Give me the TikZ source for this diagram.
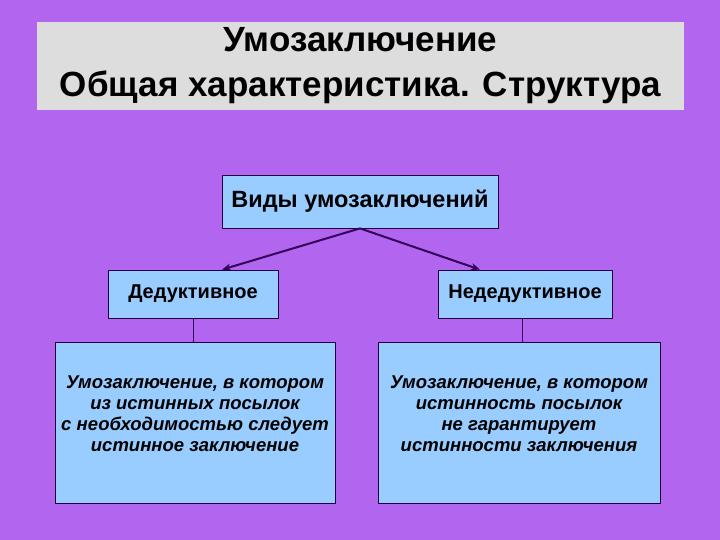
\documentclass[tikz,border=0pt]{standalone}
\usepackage{fontspec}
\setmainfont{Liberation Sans}
\usetikzlibrary{arrows.meta}
\definecolor{fon}{RGB}{178,102,240}
\definecolor{kasten}{RGB}{153,204,255}
\definecolor{titel}{RGB}{221,221,221}
\definecolor{pfeil}{RGB}{51,0,90}
\tikzset{
  box/.style={draw=pfeil!70!black,fill=kasten,line width=0.8pt,align=center,inner sep=0pt},
  verb/.style={draw=pfeil,line width=2pt},
}
\begin{document}
\begin{tikzpicture}[x=1pt,y=-1pt,font=\bfseries]
    % Hintergrund
    \fill[fon] (0,0) rectangle (720,540);
    \useasboundingbox (0,0) rectangle (720,540);
    % Titel
    \node[fill=titel,minimum width=647pt,minimum height=88pt,align=center,font=\bfseries\fontsize{35}{45}\selectfont] (titel) at (360.5,66)
      {Умозаключение\\Общая характеристика. Структура};
    % Kaesten
    \node[box,minimum width=276pt,minimum height=53pt,font=\bfseries\fontsize{23.5}{26}\selectfont] (arten) at (360,201.5) {Виды умозаключений};
    \node[box,minimum width=170pt,minimum height=48pt,font=\bfseries\fontsize{20}{22}\selectfont] (ded) at (193,294) {Дедуктивное};
    \node[box,minimum width=174pt,minimum height=48pt,font=\bfseries\fontsize{20}{22}\selectfont] (nded) at (525,294) {Недедуктивное};
    \node[box,minimum width=280pt,minimum height=161pt,font=\bfseries\itshape\fontsize{18.5}{21}\selectfont,text depth=17pt] (dedtext) at (195,422.5)
      {Умозаключение, в котором\\из истинных посылок\\с необходимостью следует\\истинное заключение};
    \node[box,minimum width=282pt,minimum height=161pt,font=\bfseries\itshape\fontsize{18.5}{21}\selectfont,text depth=17pt] (ndedtext) at (519,422.5)
      {Умозаключение, в котором\\истинность посылок\\не гарантирует\\истинности заключения};
    % Verbindungen
    \draw[verb,-{Stealth[length=9pt,width=7pt]}] (arten.south) -- ([xshift=29pt]ded.north);
    \draw[verb,-{Stealth[length=9pt,width=7pt]}] (arten.south) -- ([xshift=-45pt]nded.north);
    \draw[verb,line width=1pt] (ded.south) -- (ded.south |- dedtext.north);
    \draw[verb,line width=1pt] ([xshift=-3pt]nded.south) -- ([xshift=-3pt]nded.south |- ndedtext.north);
\end{tikzpicture}
\end{document}
